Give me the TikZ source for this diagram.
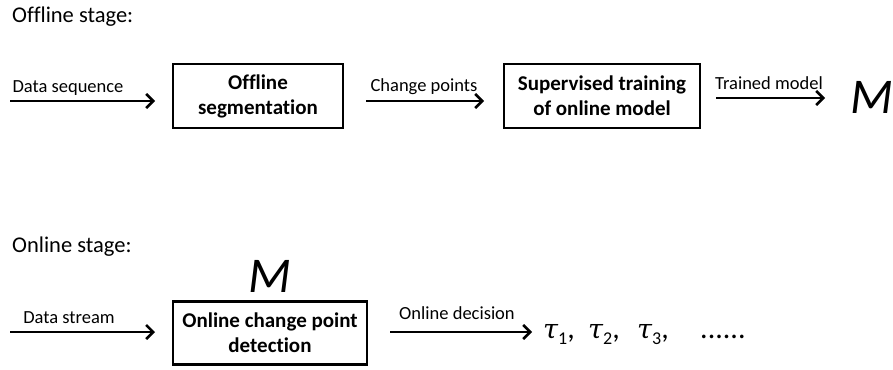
\documentclass[tikz,border=0pt]{standalone}
\usepackage{fontspec}
\setmainfont[Ligatures=CommonOff]{Carlito}
\newfontfamily\greekfont{DejaVu Serif}
\usetikzlibrary{arrows.meta}
\newcommand{\mytau}[1]{{\greekfont\itshape\fontsize{27}{30}\selectfont τ}\raisebox{-0.22em}{\fontsize{18}{20}\selectfont #1}}
\begin{document}
\begin{tikzpicture}[x=1pt,y=-1pt,
  box/.style={draw,line width=2.8pt,font=\fontsize{21}{25}\selectfont\bfseries,align=center,inner sep=0pt},
  flow/.style={line width=2.6pt,-{Straight Barb[length=7pt,width=14pt,line width=2.6pt]}},
  lbl/.style={font=\fontsize{18.5}{22}\selectfont,inner sep=0pt,anchor=base},
  stage/.style={font=\fontsize{22.5}{27}\selectfont,inner sep=0pt,anchor=base west},
  bigm/.style={font=\fontsize{50}{55}\selectfont\itshape,inner sep=0pt,anchor=base}]
\useasboundingbox (0,0) rectangle (893,369);
\node[stage] (s1) at (12,23) {Offline stage:};
\node[stage] (s2) at (12,252) {Online stage:};
% row 1
\node[box,minimum width=170pt,minimum height=64pt] (b1) at (258,96) {Offline\\segmentation};
\node[box,minimum width=196pt,minimum height=64pt] (b2) at (602,96) {Supervised training\\of online model};
\node[bigm] (m1) at (872,113) {M};
\coordinate (a1s) at (10,101);
\coordinate (a1e) at (155,101);
\coordinate (a2s) at (366,101);
\coordinate (a2e) at (484,101);
\coordinate (a3s) at (716,98);
\coordinate (a3e) at (825,98);
\draw[flow] (a1s) -- (a1e);
\draw[flow] (a2s) -- (a2e);
\draw[flow] (a3s) -- (a3e);
\node[lbl] (l1) at (68,92) {Data sequence};
\node[lbl] (l2) at (424,91) {Change points};
\node[lbl] (l3) at (769,89) {Trained model};
% row 2
\node[box,minimum width=194pt,minimum height=63pt] (b3) at (270,333) {Online change point\\detection};
\node[bigm] (m2) at (270,292) {M};
\coordinate (a4s) at (10,332);
\coordinate (a4e) at (155,332);
\coordinate (a5s) at (390,332);
\coordinate (a5e) at (532,332);
\draw[flow] (a4s) -- (a4e);
\draw[flow] (a5s) -- (a5e);
\node[lbl] (l4) at (69,323) {Data stream};
\node[lbl] (l5) at (457,319) {Online decision};
\node[inner sep=0pt,anchor=base west,font=\fontsize{30}{34}\selectfont] (tau) at (543,338)
  {\makebox[45pt][l]{\mytau{1},}\makebox[49pt][l]{\mytau{2},}\makebox[63pt][l]{\mytau{3},}......};
\end{tikzpicture}
\end{document}
